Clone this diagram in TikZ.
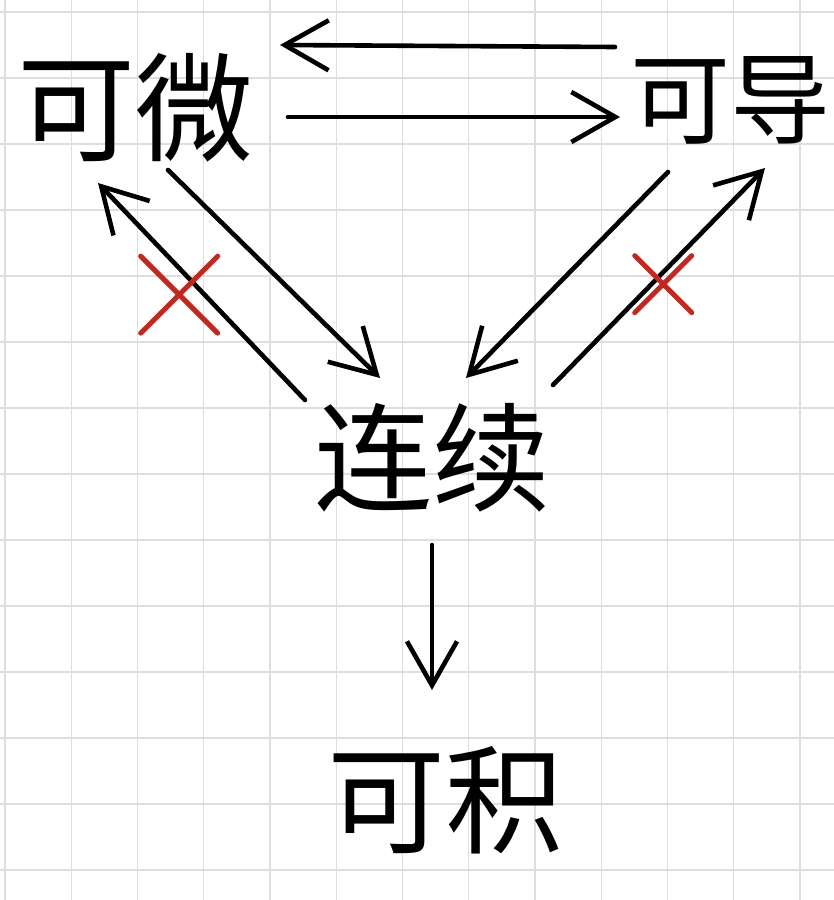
\documentclass[tikz,border=0pt]{standalone}
\usepackage{fontspec}
\newfontfamily\cjk{Noto Sans CJK SC}
\usetikzlibrary{arrows.meta,calc,shapes.misc}
\definecolor{gridgray}{RGB}{222,222,222}
\definecolor{markred}{RGB}{192,40,34}

\tikzset{
  word/.style={font=\cjk\fontsize{#1}{#1}\selectfont,inner sep=0pt},
  word/.default=118,
  conn/.style={line width=4.6pt,line cap=round,
    -{Straight Barb[length=44pt,width=50pt,line width=4.6pt]}},
  nomark/.style={draw=markred,line width=5pt,cross out,
    minimum size=#1,inner sep=0pt},
}

\begin{document}
\begin{tikzpicture}[x=1pt,y=-1pt]
  \useasboundingbox (0,0) rectangle (834,900);
  \fill[white] (0,0) rectangle (834,900);
  % 方格
  \foreach \i in {0,...,12}
    \draw[gridgray,line width=1.4pt] (5+66.25*\i,0) -- (5+66.25*\i,900);
  \foreach \j in {0,...,13}
    \draw[gridgray,line width=1.4pt] (0,12+66*\j) -- (834,12+66*\j);

  % 四个性质
  \node[word] (kewei) at (135,108) {可微};
  \node[word=100] (kedao) at (730,100) {可导};
  \node[word] (lianxu) at (432,458) {连续};
  \node[word] (keji) at (445,800) {可积};

  % 可微 <-> 可导
  \draw[conn] ([shift={(-115,-53)}]kedao.center) -- ([shift={(145,-63)}]kewei.center);
  \draw[conn] ([shift={(153,9)}]kewei.center) -- ([shift={(-110,17)}]kedao.center);

  % 可微 -> 连续, 连续 -/-> 可微
  \draw[conn] ([shift={(33,62)}]kewei.center) -- ([shift={(-52,-80)}]lianxu.center);
  \draw[conn] ([shift={(-127,-58)}]lianxu.center) -- ([shift={(-37,75)}]kewei.center)
    node[pos=0.55,shift={(-12,14)},nomark=72pt] {};

  % 可导 -> 连续, 连续 -/-> 可导
  \draw[conn] ([shift={(-62,72)}]kedao.center) -- ([shift={(34,-80)}]lianxu.center);
  \draw[conn] ([shift={(121,-73)}]lianxu.center) -- ([shift={(35,68)}]kedao.center)
    node[pos=0.52,shift={(0,12)},nomark=52pt] {};

  % 连续 -> 可积
  \draw[conn] ([shift={(0,87)}]lianxu.center) -- ([shift={(-13,-110)}]keji.center);
\end{tikzpicture}
\end{document}
